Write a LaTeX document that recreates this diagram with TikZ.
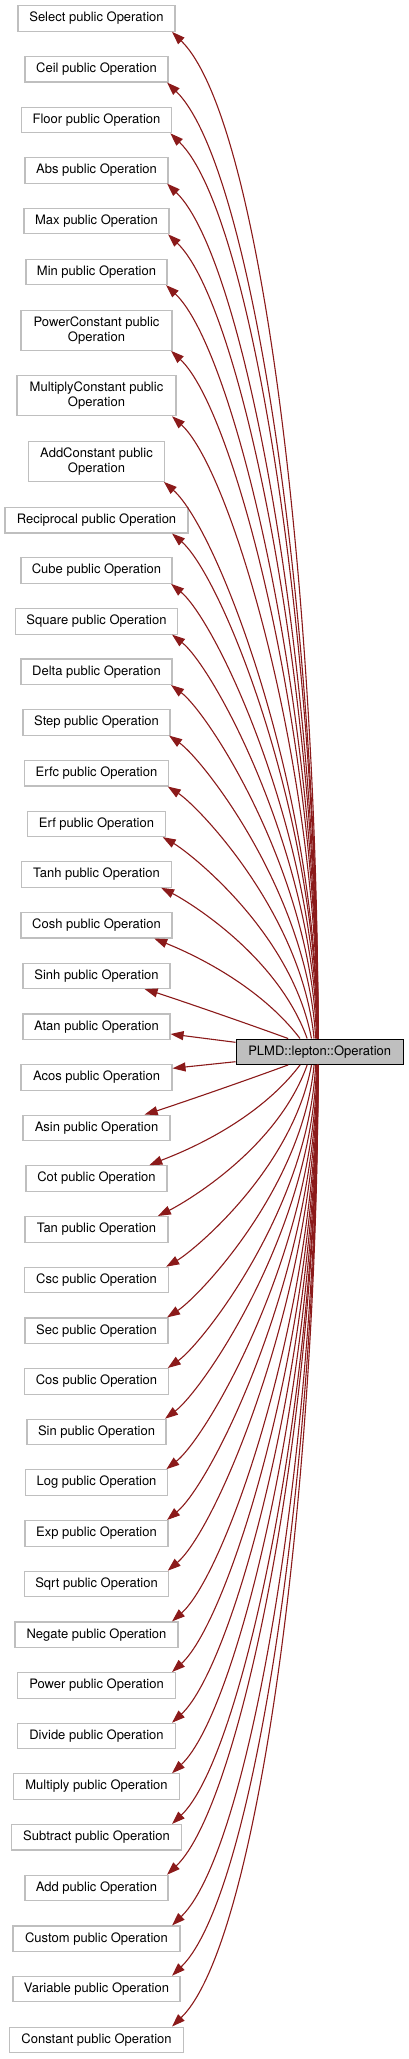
\documentclass[tikz,border=0pt]{standalone}
\usepackage{fontspec}
\setmainfont{TeX Gyre Heros}
\usetikzlibrary{arrows.meta}
\definecolor{edgec}{HTML}{8B1A1A}
\definecolor{boxc}{HTML}{BFBFBF}
\begin{document}
\begin{tikzpicture}[x=1pt,y=-1pt,
  box/.style={draw=boxc, line width=1.1pt, fill=white, inner sep=0pt, align=center,
    font=\fontsize{13}{15}\selectfont},
  rootbox/.style={draw=black, line width=1.1pt, fill=boxc, inner sep=0pt,
    font=\fontsize{13}{15}\selectfont},
  edge/.style={draw=edgec, line width=1.1pt, -{Triangle[length=13pt,width=9pt]}, edgec}]
\useasboundingbox (0,0) rectangle (408,2059);

\node[rootbox, minimum width=167.3pt, minimum height=25.3pt] (n-plmd) at (319.7,1051.7) {PLMD::lepton::Operation};

\foreach \nm/\lab/\yc/\w/\h in {
  sel/{Select public Operation}/18.3/157/26,
  ceil/{Ceil public Operation}/69.2/143/25.5,
  floor/{Floor public Operation}/120/149.5/25.5,
  abs/{Abs public Operation}/170.3/143/25.5,
  max/{Max public Operation}/221/145/25.5,
  min/{Min public Operation}/271.8/141/25.5,
  powc/{PowerConstant public\\Operation}/330.5/151/39.6,
  mulc/{MultiplyConstant public\\Operation}/395.7/159/40,
  addc/{AddConstant public\\Operation}/461.3/136.7/40,
  recip/{Reciprocal public Operation}/520.2/183/25.5,
  cube/{Cube public Operation}/570.5/151/25.5,
  square/{Square public Operation}/621.3/161.3/25.5,
  delta/{Delta public Operation}/671.7/151/25.5,
  stepop/{Step public Operation}/722.3/147/25.5,
  erfc/{Erfc public Operation}/773.2/144.4/25.5,
  erf/{Erf public Operation}/823.8/137.6/25.5,
  tanh/{Tanh public Operation}/874.5/149.6/25.5,
  cosh/{Cosh public Operation}/925.2/151/25.5,
  sinh/{Sinh public Operation}/975.8/147/25.5,
  atan/{Atan public Operation}/1026.7/147/25.5,
  acos/{Acos public Operation}/1077.3/151/25.5,
  asin/{Asin public Operation}/1127.8/147/25.5,
  cot/{Cot public Operation}/1178.5/141/25.5,
  tan/{Tan public Operation}/1229.3/143/25.5,
  csc/{Csc public Operation}/1280/144.4/25.5,
  sec/{Sec public Operation}/1330.7/143/25.5,
  cos/{Cos public Operation}/1381.3/144.4/25.5,
  sin/{Sin public Operation}/1432/139/25.5,
  log/{Log public Operation}/1482.5/141.6/25.5,
  exp/{Exp public Operation}/1533.3/143/25.5,
  sqrt/{Sqrt public Operation}/1584/144.4/25.5,
  negate/{Negate public Operation}/1634.7/163/25.5,
  power/{Power public Operation}/1685.3/157.6/25.5,
  divide/{Divide public Operation}/1736/157.6/25.5,
  multiply/{Multiply public Operation}/1786.5/165.6/25.5,
  subtract/{Subtract public Operation}/1837.2/169.3/25.5,
  add/{Add public Operation}/1888/143/25.5,
  custom/{Custom public Operation}/1938.7/167/25.5,
  variable/{Variable public Operation}/1989/167/25.5,
  constant/{Constant public Operation}/2039.8/173.3/25.5}{
  \node[box, minimum width=\w pt, minimum height=\h pt] (n-\nm) at (96.5,\yc) {\lab};
}

% edges to boxes above the root
\foreach \nm/\yc/\w/\h in {
  sel/18.3/157/26, ceil/69.2/143/25.5, floor/120/149.5/25.5, abs/170.3/143/25.5,
  max/221/145/25.5, min/271.8/141/25.5, powc/330.5/151/39.6, mulc/395.7/159/40,
  addc/461.3/136.7/40, recip/520.2/183/25.5, cube/570.5/151/25.5, square/621.3/161.3/25.5,
  delta/671.7/151/25.5, stepop/722.3/147/25.5, erfc/773.2/144.4/25.5, erf/823.8/137.6/25.5,
  tanh/874.5/149.6/25.5, cosh/925.2/151/25.5, sinh/975.8/147/25.5}{
  \pgfmathsetmacro{\myxr}{96.5+\w/2}
  \pgfmathsetmacro{\myyb}{\yc+\h/2}
  \pgfmathsetmacro{\mydd}{1039-\myyb}
  \pgfmathsetmacro{\myoff}{max(1.5,26-(\mydd-50)*0.15)}
  \pgfmathsetmacro{\mytx}{min(\myxr-\myoff,171.5)}
  \pgfmathsetmacro{\mysx}{318-30*exp(-(\mydd-50)/100)}
  \pgfmathsetmacro{\myD}{100*sqrt(((\mysx-\mytx)/100)^2+(\mydd/100)^2)}
  \pgfmathsetmacro{\myph}{90-70*exp(-(\mydd-50)/80)}
  \pgfmathsetmacro{\myth}{45-27*exp(-(\mydd-50)/250)}
  \pgfmathsetmacro{\cax}{\mysx-0.43*\myD*cos(\myph)}
  \pgfmathsetmacro{\cay}{1039-0.43*\myD*sin(\myph)}
  \pgfmathsetmacro{\cbx}{\mytx+0.125*\myD*cos(\myth)}
  \pgfmathsetmacro{\cby}{\myyb+0.125*\myD*sin(\myth)}
  \pgfmathsetmacro{\sdx}{\mysx-319.7}
  \pgfmathsetmacro{\edx}{\mytx-\myxr}
  \draw[edge] ([xshift=\sdx pt]n-plmd.north) .. controls (\cax,\cay) and (\cbx,\cby) .. ([xshift=\edx pt]n-\nm.south east);
}

% edges to boxes below the root
\foreach \nm/\yc/\w/\h in {
  asin/1127.8/147/25.5, cot/1178.5/141/25.5, tan/1229.3/143/25.5, csc/1280/144.4/25.5,
  sec/1330.7/143/25.5, cos/1381.3/144.4/25.5, sin/1432/139/25.5, log/1482.5/141.6/25.5,
  exp/1533.3/143/25.5, sqrt/1584/144.4/25.5, negate/1634.7/163/25.5, power/1685.3/157.6/25.5,
  divide/1736/157.6/25.5, multiply/1786.5/165.6/25.5, subtract/1837.2/169.3/25.5,
  add/1888/143/25.5, custom/1938.7/167/25.5, variable/1989/167/25.5, constant/2039.8/173.3/25.5}{
  \pgfmathsetmacro{\myxr}{96.5+\w/2}
  \pgfmathsetmacro{\myyb}{\yc-\h/2}
  \pgfmathsetmacro{\mydd}{\myyb-1064.3}
  \pgfmathsetmacro{\myoff}{max(1.5,26-(\mydd-50)*0.15)}
  \pgfmathsetmacro{\mytx}{min(\myxr-\myoff,171.5)}
  \pgfmathsetmacro{\mysx}{318-30*exp(-(\mydd-50)/100)}
  \pgfmathsetmacro{\myD}{100*sqrt(((\mysx-\mytx)/100)^2+(\mydd/100)^2)}
  \pgfmathsetmacro{\myph}{90-70*exp(-(\mydd-50)/80)}
  \pgfmathsetmacro{\myth}{45-27*exp(-(\mydd-50)/250)}
  \pgfmathsetmacro{\cax}{\mysx-0.43*\myD*cos(\myph)}
  \pgfmathsetmacro{\cay}{1064.3+0.43*\myD*sin(\myph)}
  \pgfmathsetmacro{\cbx}{\mytx+0.125*\myD*cos(\myth)}
  \pgfmathsetmacro{\cby}{\myyb-0.125*\myD*sin(\myth)}
  \pgfmathsetmacro{\sdx}{\mysx-319.7}
  \pgfmathsetmacro{\edx}{\mytx-\myxr}
  \draw[edge] ([xshift=\sdx pt]n-plmd.south) .. controls (\cax,\cay) and (\cbx,\cby) .. ([xshift=\edx pt]n-\nm.north east);
}

% the two nearly horizontal edges
\draw[edge] ([yshift=9.4pt]n-plmd.west) -- ([yshift=-7.3pt]n-atan.east);
\draw[edge] ([yshift=-10pt]n-plmd.west) -- ([yshift=9pt]n-acos.east);
\end{tikzpicture}
\end{document}
